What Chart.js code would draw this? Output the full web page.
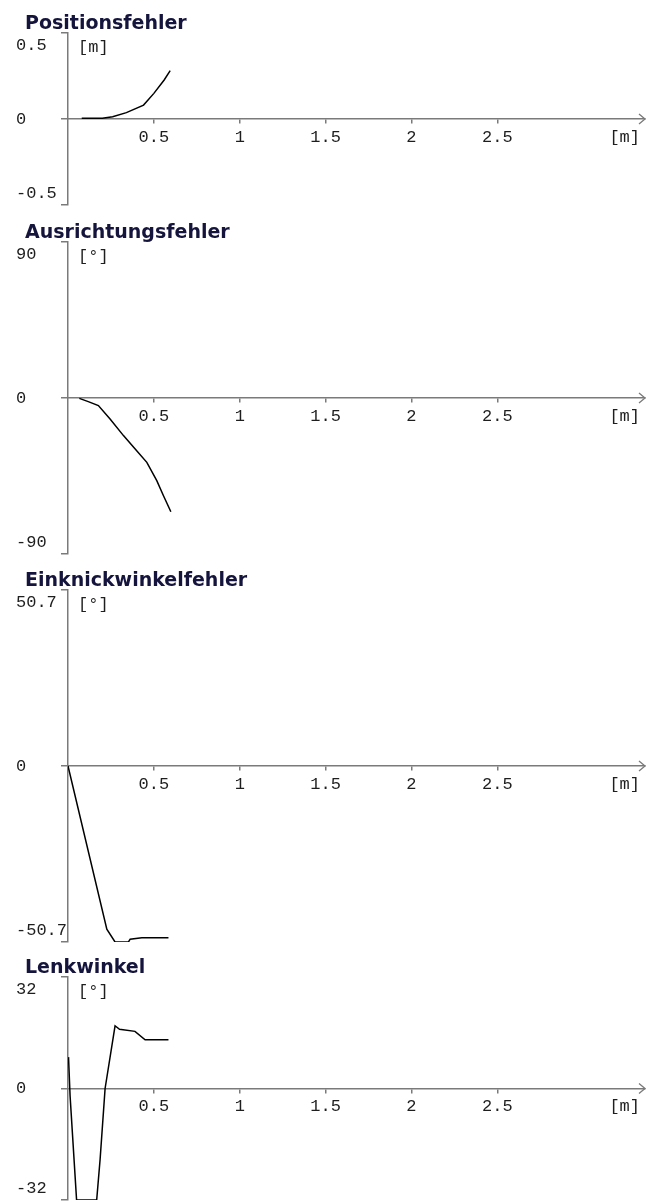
<!DOCTYPE html>
<html>
<head>
<meta charset="utf-8">
<script src="https://cdn.jsdelivr.net/npm/chart.js@4.4.1/dist/chart.umd.min.js"></script>
<style>
    html, body { margin: 0; padding: 0; background: #fff; }
    #wrap { position: relative; width: 646px; height: 1202px; overflow: hidden; }
    #wrap canvas { position: absolute; left: 0; }
</style>
</head>
<body>
<div id="wrap">
    <canvas id="c1"></canvas>
    <canvas id="c2"></canvas>
    <canvas id="c3"></canvas>
    <canvas id="c4"></canvas>
</div>
<script>
"use strict";

// x axis [m], same for all four plots
var xTicks = [0.5, 1, 1.5, 2, 2.5];
var xMax = 3.36;

// Positionsfehler [m]
var posX = [0.08, 0.13, 0.20, 0.26, 0.34, 0.44, 0.50, 0.56, 0.595];
var posY = [0.004, 0.004, 0.004, 0.013, 0.037, 0.081, 0.149, 0.227, 0.281];

// Ausrichtungsfehler [°]
var oriX = [0.066, 0.118, 0.177, 0.245, 0.323, 0.40, 0.459, 0.517, 0.556, 0.599];
var oriY = [-0.2, -2.1, -4.4, -12.1, -21.7, -30.4, -37.1, -47.7, -56.4, -65.6];

// Einknickwinkelfehler [°]
var knickX = [0, 0.226, 0.274, 0.352, 0.362, 0.43, 0.585];
var knickY = [0, -47, -50.7, -50.7, -49.9, -49.5, -49.5];

// Lenkwinkel [°]
var lenkX = [0.003, 0.012, 0.05, 0.167, 0.187, 0.216, 0.274, 0.30, 0.39, 0.449, 0.585];
var lenkY = [9, -2, -32, -32, -20.3, 0, 18, 17, 16.4, 14, 14];

// symmetric y ranges of the plots
var yRanges = [0.5, 90, 50.7, 32];

var titles = ["Positionsfehler", "Ausrichtungsfehler", "Einknickwinkelfehler", "Lenkwinkel"];
var units = ["[m]", "[°]", "[°]", "[°]"];
var xUnit = "[m]";

var axisGrey = "#7a7a7a";
var textCol = "#1e1e1e";
var titleCol = "#14143c";
var mono = "'Liberation Mono', 'DejaVu Sans Mono', monospace";

// canvas placement of every plot
var boxes = [
    { top: 0,   height: 212, padTop: 33, padBottom: 7 },
    { top: 212, height: 350, padTop: 30, padBottom: 8 },
    { top: 562, height: 386, padTop: 28, padBottom: 6 },
    { top: 948, height: 254, padTop: 29, padBottom: 2 }
];

var series = [[posX, posY], [oriX, oriY], [knickX, knickY], [lenkX, lenkY]];

// title, unit labels and the arrow at the end of the x axis
var decor = {
    id: "decor",
    afterDraw: function (chart, args, opts) {
        var c = chart.ctx;
        var a = chart.chartArea;
        var y0 = chart.scales.y.getPixelForValue(0);
        c.save();
        c.font = "bold 19px 'DejaVu Sans'";
        c.fillStyle = titleCol;
        c.textBaseline = "alphabetic";
        c.fillText(opts.title, 25, a.top - 4);

        c.font = "17px " + mono;
        c.fillStyle = textCol;
        c.textBaseline = "middle";
        c.fillText(opts.unit, a.left + 10, a.top + 14);
        c.textAlign = "right";
        c.fillText(xUnit, 640, y0 + 18);

        c.strokeStyle = axisGrey;
        c.lineWidth = 1.3;
        c.beginPath();
        c.moveTo(a.right - 6, y0 - 5);
        c.lineTo(a.right, y0);
        c.lineTo(a.right - 6, y0 + 5);
        c.stroke();
        c.restore();
    }
};

series.forEach(function (s, i) {
    var b = boxes[i];
    var r = yRanges[i];
    var canvas = document.getElementById("c" + (i + 1));
    canvas.width = 646;
    canvas.height = b.height;
    canvas.style.top = b.top + "px";

    var points = s[0].map(function (x, k) { return { x: x, y: s[1][k] }; });

    new Chart(canvas.getContext("2d"), {
        type: "line",
        data: {
            datasets: [{
                data: points,
                borderColor: "#000",
                borderWidth: 1.5,
                pointRadius: 0,
                tension: 0,
                fill: false
            }]
        },
        options: {
            responsive: false,
            animation: false,
            events: [],
            layout: { padding: { left: 16, right: 1, top: b.padTop, bottom: b.padBottom } },
            plugins: {
                legend: { display: false },
                tooltip: { enabled: false },
                decor: { title: titles[i], unit: units[i] }
            },
            scales: {
                x: {
                    type: "linear",
                    min: 0,
                    max: xMax,
                    position: { y: 0 },
                    afterBuildTicks: function (sc) {
                        sc.ticks = xTicks.map(function (v) { return { value: v }; });
                    },
                    grid: { drawOnChartArea: false, tickLength: 4, color: axisGrey, lineWidth: 1.5 },
                    border: { display: true, color: axisGrey, width: 1.5 },
                    ticks: {
                        autoSkip: false,
                        maxRotation: 0,
                        padding: 4,
                        color: textCol,
                        font: { family: mono, size: 17 },
                        callback: function (v) { return String(v); }
                    }
                },
                y: {
                    type: "linear",
                    min: -r,
                    max: r,
                    position: "left",
                    afterFit: function (sc) {
                        sc.width = 52;
                        // the end labels sit inside the range, no extra room needed
                        sc.paddingTop = 0;
                        sc.paddingBottom = 0;
                    },
                    afterBuildTicks: function (sc) {
                        sc.ticks = [-r, 0, r].map(function (v) { return { value: v }; });
                    },
                    grid: { drawOnChartArea: false, tickLength: 7, color: axisGrey, lineWidth: 1.5 },
                    border: { display: true, color: axisGrey, width: 1.5 },
                    ticks: {
                        crossAlign: "far",
                        padding: 0,
                        color: textCol,
                        font: { family: mono, size: 17, lineHeight: "24px" },
                        callback: function (v) {
                            // push the end labels inside the axis range like the original
                            if (v === r) return ["", String(v)];
                            if (v === -r) return [String(v), ""];
                            return String(v);
                        }
                    }
                }
            }
        },
        plugins: [decor]
    });
});
</script>
</body>
</html>
